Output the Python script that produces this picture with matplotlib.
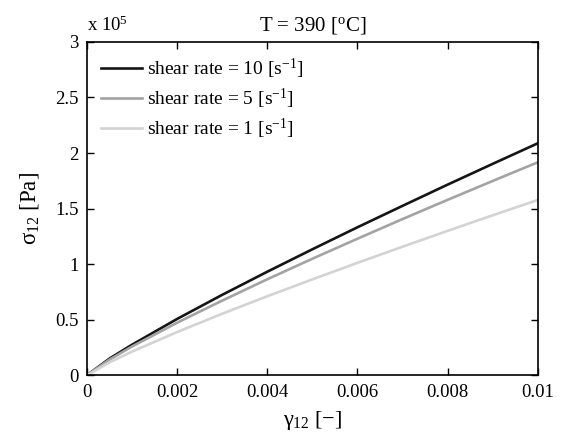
import numpy as np
import matplotlib.pyplot as plt

plt.rcParams['font.family'] = ['Liberation Serif', 'DejaVu Serif']
plt.rcParams['mathtext.fontset'] = 'custom'
plt.rcParams['mathtext.rm'] = 'Liberation Serif'
plt.rcParams['mathtext.it'] = 'Liberation Serif'
plt.rcParams['mathtext.bf'] = 'Liberation Serif'

# shear strain [-]
strain = [0, 0.0005, 0.001, 0.002, 0.003, 0.004, 0.005, 0.006, 0.007, 0.008, 0.009, 0.01]
# shear stress [x 1e5 Pa]
stress_10 = [0, 0.150, 0.275, 0.507, 0.724, 0.932, 1.134, 1.332, 1.525, 1.716, 1.903, 2.088]
stress_5 = [0, 0.141, 0.259, 0.473, 0.672, 0.864, 1.049, 1.229, 1.406, 1.579, 1.749, 1.917]
stress_1 = [0, 0.116, 0.213, 0.389, 0.554, 0.711, 0.863, 1.012, 1.157, 1.300, 1.440, 1.578]

labels = [r'shear rate = 10 [s$^{-1}$]', r'shear rate = 5 [s$^{-1}$]', r'shear rate = 1 [s$^{-1}$]']
colors = ['#151515', '#a3a3a3', '#d3d3d3']

xticks = [0, 0.002, 0.004, 0.006, 0.008, 0.01]
xticklabels = ['0', '0.002', '0.004', '0.006', '0.008', '0.01']
yticks = [0, 0.5, 1, 1.5, 2, 2.5, 3]
yticklabels = ['0', '0.5', '1', '1.5', '2', '2.5', '3']

fig = plt.figure(figsize=(5.68, 4.41), dpi=100)
ax = fig.add_axes([0.153, 0.149, 0.794, 0.756])

for s, lab, c in zip([stress_10, stress_5, stress_1], labels, colors):
    ax.plot(strain, s, color=c, lw=1.9, label=lab)

ax.set_xlim(0, 0.01)
ax.set_ylim(0, 3)
ax.set_xticks(xticks)
ax.set_xticklabels(xticklabels)
ax.set_yticks(yticks)
ax.set_yticklabels(yticklabels)
ax.tick_params(direction='in', top=True, right=True, length=5, width=1,
               labelsize=13.5, pad=6)
for sp in ax.spines.values():
    sp.set_linewidth(1.2)

ax.set_xlabel(r'$\gamma_{12}$ [$-$]', fontsize=16, labelpad=6)
ax.set_ylabel(r'$\sigma_{12}$ [Pa]', fontsize=16.5, labelpad=10)
ax.set_title(r'T = 390 [$^{\mathrm{o}}$C]', fontsize=15, pad=8)
ax.text(0.0, 1.02, r'x 10$^{5}$', transform=ax.transAxes, fontsize=13.5,
        ha='left', va='bottom')

ax.legend(loc='upper left', frameon=False, fontsize=14, handlelength=2.1,
          handletextpad=0.25, labelspacing=0.3, borderaxespad=0.35)

fig.savefig('out.png', dpi=100)
